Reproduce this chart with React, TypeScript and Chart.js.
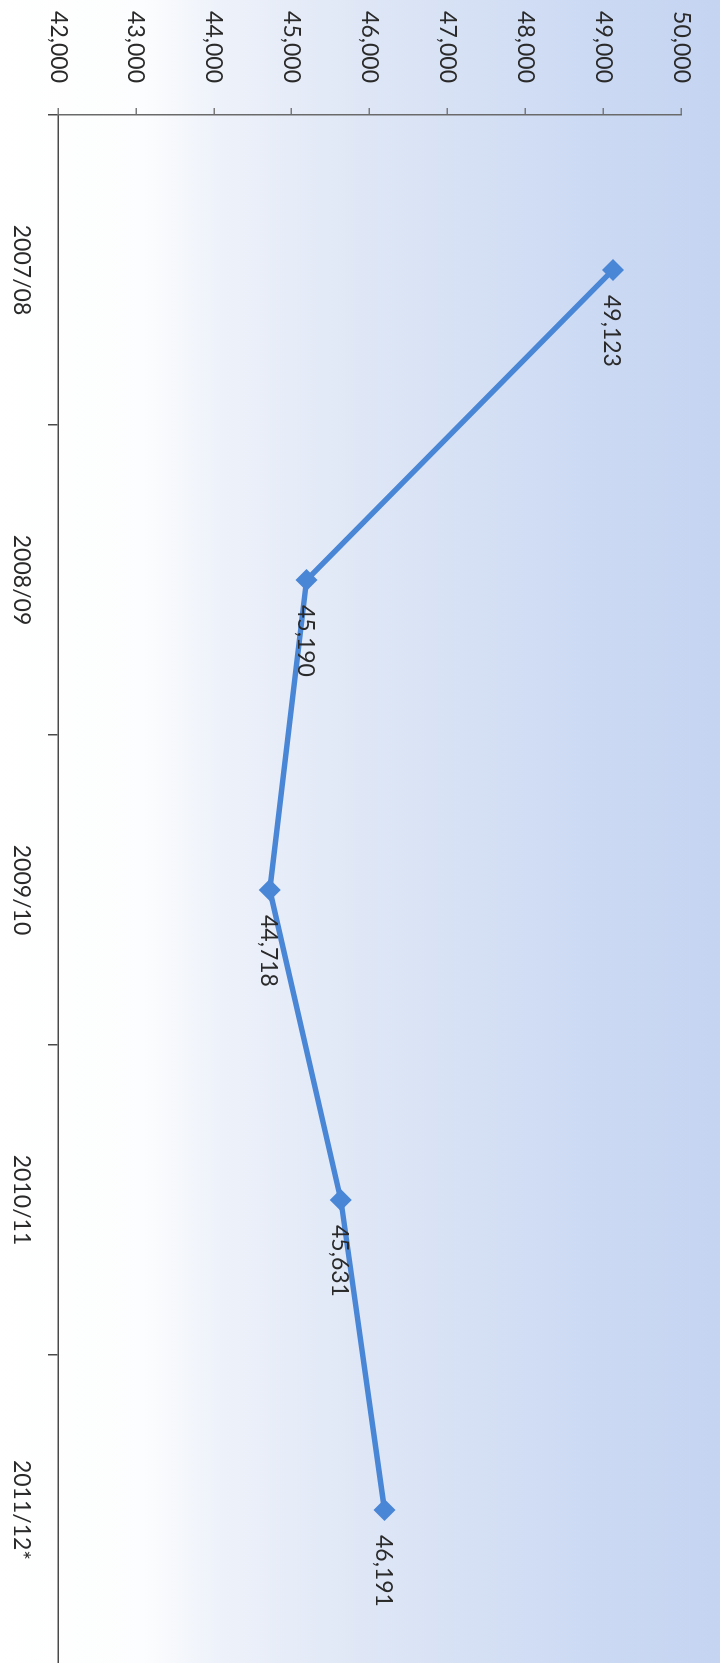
import React, { useEffect, useRef } from "react";
import { Chart, registerables } from "chart.js";

Chart.register(...registerables);

const categories = ["2007/08", "2008/09", "2009/10", "2010/11", "2011/12*"];
const values = [49123, 45190, 44718, 45631, 46191];
const valueMin = 42000;
const valueMax = 50000;
const valueStep = 1000;

const FONT = "Lato, 'DejaVu Sans', sans-serif";
const CANVAS_W = 1700;
const CANVAS_H = 720;

const fmt = (v: number) => v.toLocaleString("en-US");

const bgPlugin = {
  id: "bgGradient",
  beforeDraw(chart: any) {
    const { ctx, width, height } = chart;
    const g = ctx.createLinearGradient(0, 0, 0, height);
    g.addColorStop(0, "#c5d4f1");
    g.addColorStop(0.17, "#cbd9f3");
    g.addColorStop(0.5, "#dfe7f6");
    g.addColorStop(0.7, "#eef2fa");
    g.addColorStop(0.8, "#fcfdfe");
    g.addColorStop(1, "#ffffff");
    ctx.save();
    ctx.fillStyle = g;
    ctx.fillRect(0, 0, width, height);
    ctx.restore();
  },
};

const labelPlugin = {
  id: "pointLabels",
  afterDatasetsDraw(chart: any) {
    const { ctx } = chart;
    const meta = chart.getDatasetMeta(0);
    const data = chart.data.datasets[0].data as number[];
    ctx.save();
    ctx.font = `23px ${FONT}`;
    ctx.fillStyle = "#2a2a2a";
    ctx.textAlign = "left";
    ctx.textBaseline = "middle";
    meta.data.forEach((pt: any, i: number) => {
      ctx.fillText(fmt(data[i]), pt.x + 25, pt.y + 1);
    });
    ctx.restore();
  },
};

export default function App() {
  const ref = useRef<HTMLCanvasElement | null>(null);

  useEffect(() => {
    if (!ref.current) return;
    const chart = new Chart(ref.current, {
      type: "line",
      data: {
        labels: categories,
        datasets: [
          {
            data: values,
            borderColor: "#4a86d6",
            backgroundColor: "#4a86d6",
            borderWidth: 5.5,
            pointStyle: "rectRot",
            pointRadius: 11,
            pointBorderWidth: 0,
            pointBackgroundColor: "#4a86d6",
            tension: 0,
            fill: false,
          },
        ],
      },
      options: {
        responsive: false,
        animation: false,
        devicePixelRatio: 1,
        layout: { padding: { top: 12, right: 35, left: 0, bottom: 0 } },
        plugins: {
          legend: { display: false },
          tooltip: { enabled: false },
        },
        scales: {
          x: {
            type: "category",
            offset: true,
            grid: {
              offset: true,
              drawOnChartArea: false,
              drawTicks: true,
              tickLength: 10,
              color: "#4a4a4a",
              lineWidth: 1.5,
            },
            border: { display: true, color: "#4a4a4a", width: 1.5 },
            ticks: {
              color: "#2a2a2a",
              font: { family: FONT, size: 23 },
              padding: 13,
              maxRotation: 0,
              minRotation: 0,
              autoSkip: false,
            },
            afterFit(scale: any) {
              scale.height = 58;
            },
          },
          y: {
            min: valueMin,
            max: valueMax,
            grid: {
              drawOnChartArea: false,
              drawTicks: true,
              tickLength: 7,
              color: "#7a7a7a",
              lineWidth: 1.5,
            },
            border: { display: true, color: "#6a6a6a", width: 1.5 },
            ticks: {
              stepSize: valueStep,
              color: "#2a2a2a",
              font: { family: FONT, size: 23 },
              padding: 25,
              callback: (v: any) => fmt(Number(v)),
            },
            afterFit(scale: any) {
              scale.width = 115;
            },
          },
        },
      },
      plugins: [bgPlugin, labelPlugin],
    });
    return () => chart.destroy();
  }, []);

  return (
    <div
      style={{
        position: "absolute",
        top: 0,
        left: 0,
        width: 720,
        height: 1663,
        overflow: "hidden",
        background: "#ffffff",
      }}
    >
      <div
        style={{
          position: "absolute",
          top: 0,
          left: 0,
          width: CANVAS_W,
          height: CANVAS_H,
          transformOrigin: "0 0",
          transform: `translate(${CANVAS_H}px, 0px) rotate(90deg)`,
        }}
      >
        <canvas
          ref={ref}
          width={CANVAS_W}
          height={CANVAS_H}
          style={{ width: CANVAS_W, height: CANVAS_H, display: "block" }}
        />
      </div>
    </div>
  );
}
